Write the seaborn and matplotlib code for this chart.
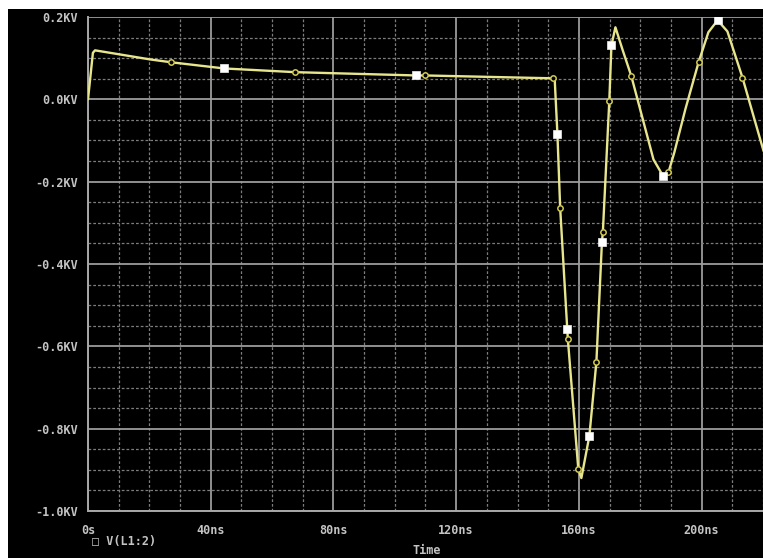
import matplotlib
matplotlib.use("Agg")
import matplotlib.pyplot as plt
from matplotlib.patches import Rectangle
from matplotlib.ticker import MultipleLocator
import seaborn as sns
import pandas as pd

# trace V(L1:2), time in ns, voltage in KV
time_ns = [0.0, 1.6, 2.3, 20.2, 27.1, 44.4, 67.5, 82.2, 107.0, 109.9,
           151.7, 152.1, 153.0, 153.9, 156.2, 156.4, 159.8, 160.8, 162.1, 163.4,
           165.7, 167.5, 167.8, 169.9, 170.6, 171.9, 174.2, 177.1, 181.7, 184.3,
           187.5, 189.2, 191.1, 194.7, 199.0, 202.2, 205.2, 208.4, 213.3, 220.2]
volt_kv = [0.0, 0.113, 0.119, 0.097, 0.090, 0.075, 0.066, 0.063, 0.058, 0.058,
           0.051, 0.050, -0.085, -0.265, -0.558, -0.583, -0.898, -0.920, -0.869, -0.818,
           -0.638, -0.347, -0.323, -0.005, 0.131, 0.175, 0.121, 0.056, -0.073, -0.146,
           -0.187, -0.177, -0.129, -0.024, 0.090, 0.163, 0.192, 0.165, 0.053, -0.126]
# marker drawn on each point: 's' white square, 'o' hollow circle, '' none
marker_kind = ['', '', '', '', 'o', 's', 'o', '', 's', 'o',
               'o', '', 's', 'o', 's', 'o', 'o', '', '', 's',
               'o', 's', 'o', 'o', 's', '', '', 'o', '', '',
               's', 'o', '', '', 'o', '', 's', '', 'o', '']

x_ticks = [0, 40, 80, 120, 160, 200]
x_labels = ['0s', '40ns', '80ns', '120ns', '160ns', '200ns']
y_ticks = [0.2, 0.0, -0.2, -0.4, -0.6, -0.8, -1.0]
y_labels = ['0.2KV', '0.0KV', '-0.2KV', '-0.4KV', '-0.6KV', '-0.8KV', '-1.0KV']

df = pd.DataFrame({'t': time_ns, 'v': volt_kv, 'kind': marker_kind})

sns.set_style("dark")
plt.rcParams['font.family'] = ['DejaVu Sans Mono']

W, H = 763, 558
fig = plt.figure(figsize=(W / 100, H / 100), dpi=100, facecolor='white')
fig.patches.append(Rectangle((8 / W, 0), 1 - 8 / W, (H - 9) / H, transform=fig.transFigure,
                             facecolor='black', edgecolor='none', zorder=-10))

ax = fig.add_axes([88 / W, 47 / H, (W - 88) / W, (511 - 17) / H])
ax.set_facecolor('black')

line_col = '#e8e68c'
sns.lineplot(data=df, x='t', y='v', ax=ax, color=line_col, linewidth=1.7, sort=False, zorder=5)
sq = df[df['kind'] == 's']
ci = df[df['kind'] == 'o']
sns.scatterplot(data=sq, x='t', y='v', ax=ax, marker='s', color='white', s=26,
                edgecolor='#f0f0f0', linewidth=0.5, zorder=7)
sns.scatterplot(data=ci, x='t', y='v', ax=ax, marker='o', facecolor='black', s=15,
                edgecolor='#d0c850', linewidth=1.1, zorder=6)

ax.set_xlim(0, 220)
ax.set_ylim(-1.0, 0.2)
ax.xaxis.set_minor_locator(MultipleLocator(10))
ax.yaxis.set_minor_locator(MultipleLocator(0.05))
ax.set_xticks(x_ticks)
ax.set_xticklabels(x_labels)
ax.set_yticks(y_ticks)
ax.set_yticklabels(y_labels)

ax.grid(which='major', color='#9c9c9c', linewidth=1.3, linestyle='-')
ax.grid(which='minor', color='#7c7c7c', linewidth=0.9, linestyle=(0, (2.2, 1.6)))
ax.set_axisbelow(True)

for side in ['top', 'right']:
    ax.spines[side].set_visible(False)
for side in ['left', 'bottom']:
    ax.spines[side].set_visible(True)
    ax.spines[side].set_color('#a8a8a8')
    ax.spines[side].set_linewidth(1.4)

tick_col = '#c4c4c4'
ax.tick_params(axis='both', which='major', colors=tick_col, labelsize=8.5, length=4, width=1.2, direction='out')
ax.tick_params(axis='both', which='minor', length=0)
ax.tick_params(axis='x', pad=5)
ax.tick_params(axis='y', pad=3)
for lab in ax.get_xticklabels() + ax.get_yticklabels():
    lab.set_fontweight('bold')

ax.set_xlabel('')
ax.set_ylabel('')

fig.text(92 / W, 1 - 541 / H, '\u25a1 V(L1:2)', color=tick_col, fontsize=8.5, fontweight='bold',
         ha='left', va='center')
fig.text(427 / W, 1 - 550 / H, 'Time', color=tick_col, fontsize=8.5, fontweight='bold',
         ha='center', va='center')

fig.savefig('out.png', dpi=100, facecolor='white')
